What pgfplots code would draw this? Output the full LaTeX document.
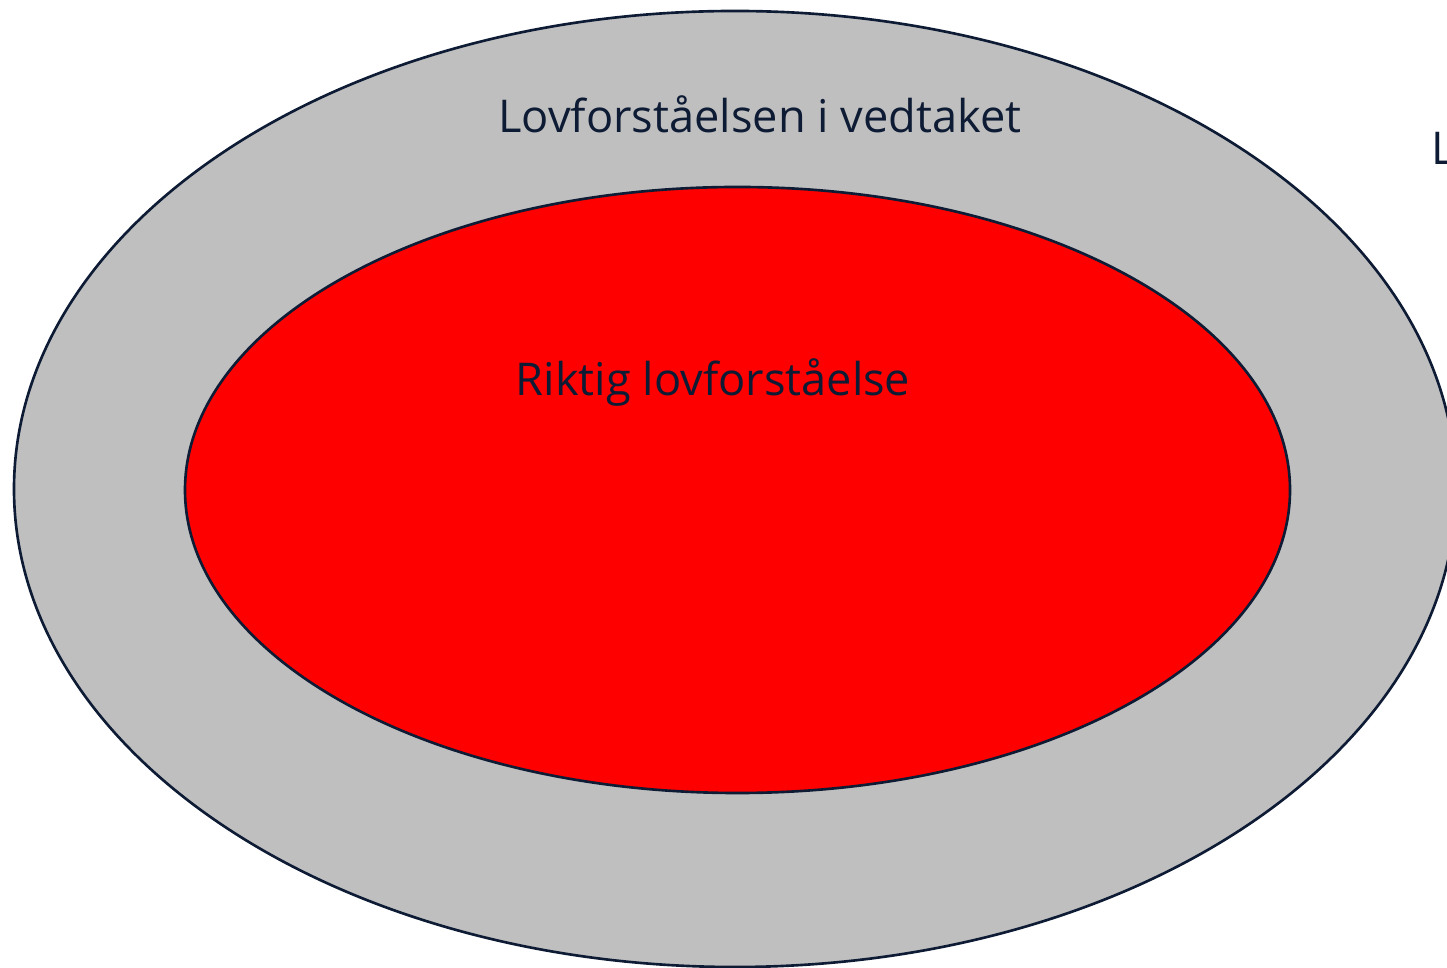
\documentclass[border=0pt]{standalone}
\usepackage{pgfplots}
\pgfplotsset{compat=1.18}
\usepackage{fontspec}
\setmainfont{Open Sans}
\definecolor{navy}{RGB}{14,27,52}
\definecolor{ringgray}{RGB}{191,191,191}
\begin{document}
\begin{tikzpicture}
\begin{axis}[
  scale only axis, width=14.47cm, height=9.67cm,
  xmin=0, xmax=1447, ymin=0, ymax=967,
  hide axis, clip=true,
]
\draw[fill=ringgray, draw=navy, line width=0.75pt] (axis cs:735,478) ellipse [x radius=721, y radius=478];
\draw[fill=red, draw=navy, line width=0.75pt] (axis cs:737.5,477) ellipse [x radius=552.5, y radius=303];
\node[anchor=base, text=navy, font=\fontsize{12.85pt}{15pt}\selectfont, inner sep=0pt] at (axis cs:760,834) {Lovforståelsen i vedtaket};
\node[anchor=base, text=navy, font=\fontsize{12.85pt}{15pt}\selectfont, inner sep=0pt] at (axis cs:713,571) {Riktig lovforståelse};
\node[anchor=base west, text=navy, font=\fontsize{12.85pt}{15pt}\selectfont, inner sep=0pt] at (axis cs:1431,802) {Lovforståelse};
\end{axis}
\pgfresetboundingbox
\path[use as bounding box] (current axis.south west) rectangle (current axis.north east);
\end{tikzpicture}
\end{document}
